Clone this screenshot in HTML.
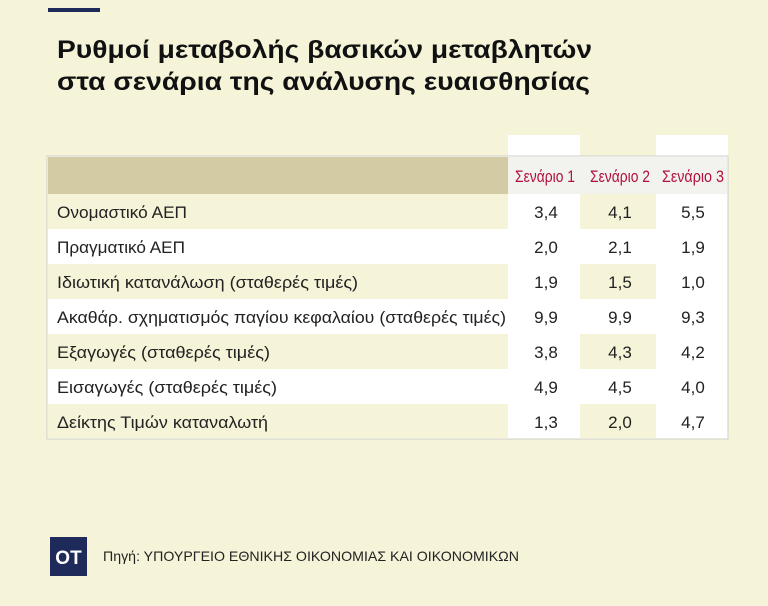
<!DOCTYPE html>
<html><head><meta charset="utf-8"><style>
html,body{margin:0;padding:0;background:#f5f3d8;}
svg{display:block;font-family:"Liberation Sans","DejaVu Sans",sans-serif;}
</style></head><body>
<svg width="768" height="606" viewBox="0 0 768 606" xmlns="http://www.w3.org/2000/svg">
<rect width="768" height="606" fill="#f5f3d8"/>
<rect x="48" y="8" width="52" height="4" fill="#1e2a5a"/>
<text x="57" y="58" font-size="25" font-weight="bold" fill="#111" textLength="535" lengthAdjust="spacingAndGlyphs">Ρυθμοί μεταβολής βασικών μεταβλητών</text>
<text x="57" y="90" font-size="25" font-weight="bold" fill="#111" textLength="533" lengthAdjust="spacingAndGlyphs">στα σενάρια της ανάλυσης ευαισθησίας</text>

<rect x="508" y="135" width="72" height="22" fill="#fff"/>
<rect x="656" y="135" width="72" height="22" fill="#fff"/>
<rect x="47" y="156" width="681" height="283" fill="#fff" stroke="#cfcfc8" stroke-width="1"/>
<rect x="48" y="157" width="460" height="37" fill="#d3cba3"/>
<rect x="508" y="157" width="219" height="37" fill="#f2f2ef"/>
<g fill="#f5f3d8">
<rect x="48" y="194" width="460" height="35"/><rect x="580" y="194" width="76" height="35"/>
<rect x="48" y="264" width="460" height="35"/><rect x="580" y="264" width="76" height="35"/>
<rect x="48" y="334" width="460" height="35"/><rect x="580" y="334" width="76" height="35"/>
<rect x="48" y="404" width="460" height="34"/><rect x="580" y="404" width="76" height="34"/>
</g>
<g fill="#b0103a" font-size="17" text-anchor="middle">
<text x="545" y="182" textLength="60" lengthAdjust="spacingAndGlyphs">Σενάριο 1</text>
<text x="620" y="182" textLength="60" lengthAdjust="spacingAndGlyphs">Σενάριο 2</text>
<text x="693" y="182" textLength="62" lengthAdjust="spacingAndGlyphs">Σενάριο 3</text>
</g>
<g fill="#222" font-size="16.5">
<text x="57" y="218" textLength="130" lengthAdjust="spacingAndGlyphs">Ονομαστικό ΑΕΠ</text>
<text x="57" y="253" textLength="128" lengthAdjust="spacingAndGlyphs">Πραγματικό ΑΕΠ</text>
<text x="57" y="288" textLength="301" lengthAdjust="spacingAndGlyphs">Ιδιωτική κατανάλωση (σταθερές τιμές)</text>
<text x="57" y="323" textLength="449" lengthAdjust="spacingAndGlyphs">Ακαθάρ. σχηματισμός παγίου κεφαλαίου (σταθερές τιμές)</text>
<text x="57" y="358" textLength="213" lengthAdjust="spacingAndGlyphs">Εξαγωγές (σταθερές τιμές)</text>
<text x="57" y="393" textLength="220" lengthAdjust="spacingAndGlyphs">Εισαγωγές (σταθερές τιμές)</text>
<text x="57" y="428" textLength="211" lengthAdjust="spacingAndGlyphs">Δείκτης Τιμών καταναλωτή</text>
</g>
<g fill="#222" font-size="17" text-anchor="middle">
<text x="546" y="218">3,4</text><text x="620" y="218">4,1</text><text x="693" y="218">5,5</text>
<text x="546" y="253">2,0</text><text x="620" y="253">2,1</text><text x="693" y="253">1,9</text>
<text x="546" y="288">1,9</text><text x="620" y="288">1,5</text><text x="693" y="288">1,0</text>
<text x="546" y="323">9,9</text><text x="620" y="323">9,9</text><text x="693" y="323">9,3</text>
<text x="546" y="358">3,8</text><text x="620" y="358">4,3</text><text x="693" y="358">4,2</text>
<text x="546" y="393">4,9</text><text x="620" y="393">4,5</text><text x="693" y="393">4,0</text>
<text x="546" y="428">1,3</text><text x="620" y="428">2,0</text><text x="693" y="428">4,7</text>
</g>

<rect x="50" y="537" width="37" height="39" fill="#1e2a5a"/>
<text x="68.5" y="564" font-size="19" font-weight="bold" fill="#fff" text-anchor="middle">OT</text>
<text x="103" y="561" font-size="14" fill="#222" textLength="416" lengthAdjust="spacingAndGlyphs">Πηγή: ΥΠΟΥΡΓΕΙΟ ΕΘΝΙΚΗΣ ΟΙΚΟΝΟΜΙΑΣ ΚΑΙ ΟΙΚΟΝΟΜΙΚΩΝ</text>
</svg>
</body></html>
